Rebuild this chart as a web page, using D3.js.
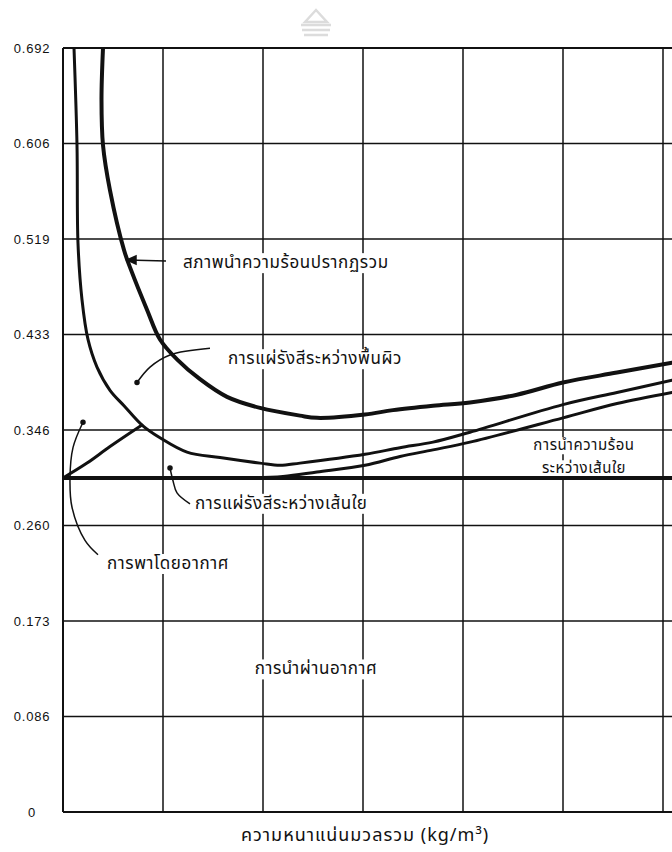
<!DOCTYPE html>
<html>
<head>
<meta charset="utf-8">
<script src="https://cdn.jsdelivr.net/npm/d3@7"></script>
<style>
  body { margin: 0; background: #fff; }
  svg { display: block; }
  .thai { font-family: 'Noto Sans Thai', 'Noto Sans', 'DejaVu Sans', sans-serif; }
</style>
</head>
<body>
<div id="chart"></div>
<script>
// y axis ticks (W/m.K scale of the original figure)
const yTicks = [0, 0.0865, 0.173, 0.2595, 0.346, 0.4325, 0.519, 0.6055, 0.692];
const yTickLabels = ['0', '0.086', '0.173', '0.260', '0.346', '0.433', '0.519', '0.606', '0.692'];
// density axis has no labels, only grid columns
const xGrid = [0, 1, 2, 3, 4, 5, 6];

// total apparent conductivity
const totalCurve = [
    [0.40, 0.692], [0.385, 0.645], [0.40, 0.604], [0.47, 0.563], [0.61, 0.509],
    [0.68, 0.491], [0.84, 0.455], [0.97, 0.428], [1.14, 0.410], [1.37, 0.392],
    [1.64, 0.376], [1.97, 0.366], [2.37, 0.359], [2.54, 0.357], [3.02, 0.360],
    [3.30, 0.364], [3.70, 0.368], [4.07, 0.371], [4.54, 0.378], [5.00, 0.389],
    [5.54, 0.398], [6.09, 0.407]
];
// upper limit of radiation between fibres (below: surface radiation)
const surfaceCurve = [
    [0.11, 0.692], [0.14, 0.604], [0.15, 0.515], [0.19, 0.464], [0.25, 0.428],
    [0.34, 0.403], [0.47, 0.382], [0.61, 0.368], [0.79, 0.3505], [0.97, 0.339],
    [1.24, 0.326], [1.57, 0.321], [1.97, 0.316], [2.17, 0.314], [2.37, 0.316],
    [3.02, 0.324], [3.37, 0.330], [3.70, 0.335], [4.07, 0.344], [5.00, 0.369],
    [5.54, 0.380], [6.09, 0.391]
];
// conduction between fibres
const fiberCurve = [
    [1.80, 0.3025], [2.20, 0.304], [2.54, 0.308], [3.02, 0.314], [3.37, 0.322],
    [3.70, 0.328], [4.07, 0.335], [5.00, 0.357], [5.54, 0.370], [6.09, 0.380]
];
// convection by air
const convectionCurve = [[0, 0.3025], [0.24, 0.316], [0.47, 0.331], [0.79, 0.3505]];
// conduction through air
const airCurve = [[0, 0.3025], [6.09, 0.3025]];

const labels = [
    { lines: ['สภาพนำความร้อนปรากฏรวม'], x: 1.20, y: 0.498, anchor: 'start', size: 17 },
    { lines: ['การแผ่รังสีระหว่างพื้นผิว'], x: 1.65, y: 0.411, anchor: 'start', size: 17 },
    { lines: ['การแผ่รังสีระหว่างเส้นใย'], x: 1.32, y: 0.280, anchor: 'start', size: 17 },
    { lines: ['การพาโดยอากาศ'], x: 0.44, y: 0.2255, anchor: 'start', size: 17 },
    { lines: ['การนำความร้อน', 'ระหว่างเส้นใย'], x: 5.21, y: 0.3324, anchor: 'middle', size: 15 },
    { lines: ['การนำผ่านอากาศ'], x: 2.53, y: 0.130, anchor: 'middle', size: 17 }
];
const leaders = [
    [[1.47, 0.420], [1.07, 0.414], [0.87, 0.403], [0.74, 0.389]],
    [[1.27, 0.279], [1.14, 0.289], [1.10, 0.300], [1.07, 0.3116]],
    [[0.35, 0.233], [0.22, 0.246], [0.09, 0.276], [0.07, 0.3025], [0.10, 0.330], [0.20, 0.353]]
];
const arrow = [[1.03, 0.499], [0.64, 0.500]];

const width = 672;
const height = 852;
const margin = { top: 48, right: 0, bottom: 40, left: 63 };

const x = d3.scaleLinear().domain([0, 6.09]).range([margin.left, width - margin.right]);
const y = d3.scaleLinear().domain([0, 0.692]).range([height - margin.bottom, margin.top]);

const svg = d3.select('#chart')
  .append('svg')
    .attr('width', width)
    .attr('height', height);

svg.append('defs')
  .append('clipPath')
    .attr('id', 'plot-clip')
  .append('rect')
    .attr('x', x(0))
    .attr('y', y(0.692))
    .attr('width', x(6.09) - x(0))
    .attr('height', y(0) - y(0.692));

// faint watermark at the top
const mark = svg.append('g')
    .attr('transform', 'translate(316, 22)')
    .attr('fill', 'none')
    .attr('stroke', '#dcdcdc')
    .attr('stroke-width', 2.5);
mark.append('path').attr('d', 'M-11,0 L0,-12 L11,0 Z');
mark.append('path').attr('d', 'M-15,3 H15 M-14,8 H14 M-12,13 H12');

// grid
const grid = svg.append('g').attr('stroke', '#111');
grid.selectAll('.hgrid')
    .data(yTicks)
  .enter().append('line')
    .classed('hgrid', true)
    .attr('x1', x(0))
    .attr('x2', x(6.09))
    .attr('y1', d => y(d))
    .attr('y2', d => y(d))
    .attr('stroke-width', d => (d === 0 || d === 0.692) ? 2 : 1.5);
grid.selectAll('.vgrid')
    .data(xGrid)
  .enter().append('line')
    .classed('vgrid', true)
    .attr('x1', d => x(d))
    .attr('x2', d => x(d))
    .attr('y1', y(0.692))
    .attr('y2', y(0))
    .attr('stroke-width', d => d === 0 ? 2 : 1.5);

// y tick labels
svg.append('g')
    .selectAll('text')
    .data(yTicks)
  .enter().append('text')
    .attr('x', 32)
    .attr('y', d => y(d))
    .attr('dy', '0.35em')
    .attr('text-anchor', 'middle')
    .style('font-family', "'Liberation Sans', Arial, sans-serif")
    .style('font-size', '13px')
    .style('letter-spacing', '0.8px')
    .attr('fill', '#111')
    .text((d, i) => yTickLabels[i]);

// text labels with white backing so grid lines break behind them
const labelGroup = svg.append('g');
labels.forEach(l => {
    l.lines.forEach((s, i) => {
        const t = labelGroup.append('text')
            .attr('class', 'thai')
            .attr('x', x(l.x))
            .attr('y', y(l.y) + i * 23)
            .attr('dy', '0.35em')
            .attr('text-anchor', l.anchor)
            .style('font-size', l.size + 'px')
            .style('letter-spacing', '0.6px')
            .attr('fill', '#111')
            .text(s);
        const b = t.node().getBBox();
        labelGroup.insert('rect', 'text')
            .attr('x', b.x - 4)
            .attr('y', b.y + 3)
            .attr('width', b.width + 8)
            .attr('height', b.height - 6)
            .attr('fill', '#fff');
    });
});

const line = d3.line()
    .x(d => x(d[0]))
    .y(d => y(d[1]))
    .curve(d3.curveCatmullRom.alpha(0.5));

const curves = svg.append('g')
    .attr('clip-path', 'url(#plot-clip)')
    .attr('fill', 'none')
    .attr('stroke', '#111')
    .attr('stroke-linecap', 'round');

curves.append('path').datum(airCurve).attr('d', line).attr('stroke-width', 4);
curves.append('path').datum(convectionCurve).attr('d', line).attr('stroke-width', 3);
curves.append('path').datum(fiberCurve).attr('d', line).attr('stroke-width', 3);
curves.append('path').datum(surfaceCurve).attr('d', line).attr('stroke-width', 3);
curves.append('path').datum(totalCurve).attr('d', line).attr('stroke-width', 4);

// leader lines and dots
const notes = svg.append('g')
    .attr('fill', 'none')
    .attr('stroke', '#111')
    .attr('stroke-width', 1.5);
notes.selectAll('.leader')
    .data(leaders)
  .enter().append('path')
    .classed('leader', true)
    .attr('d', line);
notes.selectAll('.dot')
    .data(leaders)
  .enter().append('circle')
    .classed('dot', true)
    .attr('cx', d => x(d[d.length - 1][0]))
    .attr('cy', d => y(d[d.length - 1][1]))
    .attr('r', 2)
    .attr('fill', '#111');

// arrow to total curve
notes.append('path')
    .datum(arrow)
    .attr('d', line);
const tip = [x(arrow[1][0]), y(arrow[1][1])];
notes.append('path')
    .attr('d', `M${tip[0]},${tip[1]} l9,-4 l0,8 Z`)
    .attr('fill', '#111');

// x axis title
svg.append('text')
    .attr('class', 'thai')
    .attr('x', 365)
    .attr('y', 835)
    .attr('dy', '0.35em')
    .attr('text-anchor', 'middle')
    .style('font-size', '18px')
    .style('letter-spacing', '1px')
    .attr('fill', '#111')
    .text('ความหนาแน่นมวลรวม  (kg/m³)');
</script>
</body>
</html>
